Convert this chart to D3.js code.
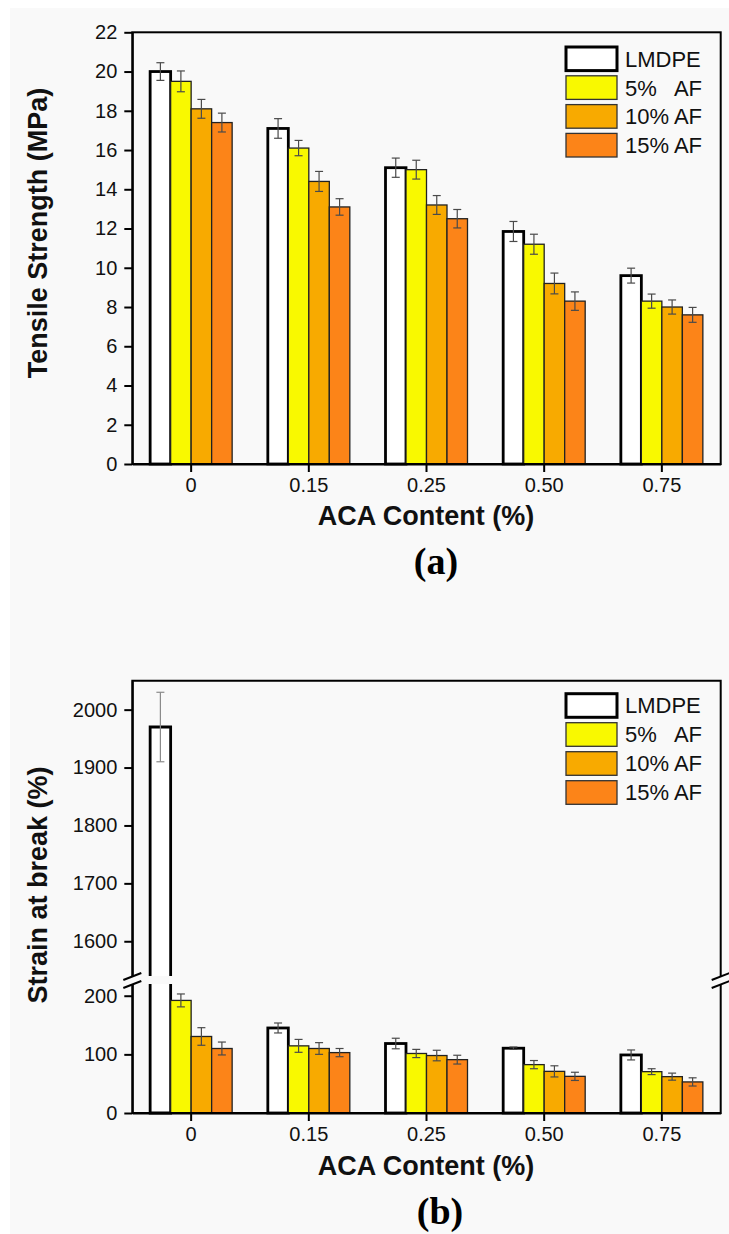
<!DOCTYPE html>
<html>
<head>
<meta charset="utf-8">
<script src="https://cdn.jsdelivr.net/npm/d3@7"></script>
<style>
  html, body { margin: 0; padding: 0; background: #ffffff; }
  svg { display: block; }
</style>
</head>
<body>
<svg id="fig" width="729" height="1234"></svg>
<script>
// ---- data ----
const categories = ["0", "0.15", "0.25", "0.50", "0.75"];
const seriesNames = ["LMDPE", "5%   AF", "10% AF", "15% AF"];

// Tensile strength (MPa)
const tensileLMDPE = [20.0, 17.1, 15.1, 11.85, 9.6];
const tensileAF5   = [19.5, 16.1, 15.0, 11.2, 8.3];
const tensileAF10  = [18.1, 14.4, 13.2, 9.2, 8.0];
const tensileAF15  = [17.4, 13.1, 12.5, 8.3, 7.6];
const tensileErrLMDPE = [0.45, 0.50, 0.49, 0.51, 0.38];
const tensileErrAF5   = [0.53, 0.39, 0.48, 0.51, 0.36];
const tensileErrAF10  = [0.48, 0.51, 0.48, 0.53, 0.36];
const tensileErrAF15  = [0.48, 0.42, 0.47, 0.47, 0.38];

// Strain at break (%)
const strainLMDPE = [1970, 145, 118.5, 110.5, 99];
const strainAF5   = [192, 114.5, 101.5, 82.5, 70.5];
const strainAF10  = [130.5, 110, 98, 71, 62];
const strainAF15  = [110, 103, 91, 62.5, 53];
const strainErrLMDPE = [60, 8.5, 9, 2, 8.5];
const strainErrAF5   = [11, 11, 7, 7, 5];
const strainErrAF10  = [15, 10, 9, 9.5, 6];
const strainErrAF15  = [11, 7, 7.5, 7, 7];

const tensileTicks = [0, 2, 4, 6, 8, 10, 12, 14, 16, 18, 20, 22];
const strainLowTicks = [0, 100, 200];
const strainHighTicks = [1600, 1700, 1800, 1900, 2000];

// ---- styling ----
const fills = ["#ffffff", "#f9f900", "#f8aa00", "#fc8418"];
const FONT = "'Liberation Sans', Arial, sans-serif";
const SERIF = "'Liberation Serif', 'Times New Roman', serif";
const intFmt = d3.format("d");

const svg = d3.select("#fig");
svg.append("rect").attr("x", 0).attr("y", 0).attr("width", 729).attr("height", 1234).attr("fill", "#ffffff");
svg.append("rect").attr("x", 10).attr("y", 8).attr("width", 719).attr("height", 1226).attr("fill", "#f9f9f9");

function buildRows(vals, errs) {
  return categories.map((c, i) => ({
    cat: c,
    items: vals.map((v, s) => ({ s, v: v[i], e: errs[s][i] }))
  }));
}

function styleAxis(g) {
  g.selectAll("path.domain").attr("stroke", "#000").attr("stroke-width", 2);
  g.selectAll(".tick line").attr("stroke", "#000").attr("stroke-width", 2);
  g.selectAll(".tick text").attr("font-family", FONT).attr("font-size", 20).attr("fill", "#111");
}

function legend(x, yc0, pitch) {
  const lg = svg.append("g");
  seriesNames.forEach((name, i) => {
    const yc = yc0 + i * pitch;
    lg.append("rect")
      .attr("x", x).attr("y", yc - 11.8).attr("width", 51).attr("height", 23.6)
      .attr("fill", fills[i])
      .attr("stroke", i === 0 ? "#000" : "#333")
      .attr("stroke-width", i === 0 ? 3 : 1.3);
    lg.append("text")
      .attr("x", x + 59).attr("y", yc).attr("dy", "0.36em")
      .attr("font-family", FONT).attr("font-size", 22).attr("fill", "#111")
      .style("white-space", "pre")
      .text(name);
  });
}

function drawErr(g, cx, yTop, yBot, color) {
  g.append("line").attr("x1", cx).attr("x2", cx).attr("y1", yTop).attr("y2", yBot)
    .attr("stroke", color).attr("stroke-width", 1.2);
  [yTop, yBot].forEach(yy => {
    g.append("line").attr("x1", cx - 4).attr("x2", cx + 4).attr("y1", yy).attr("y2", yy)
      .attr("stroke", color).attr("stroke-width", 1.2);
  });
}

// ================= (a) Tensile strength =================
{
  const L = 132.3, R = 720.7, T = 32.3, B = 464;
  const x0 = d3.scaleBand().domain(categories).range([L, R]).padding(0);
  const groupW = 82;
  const x1 = d3.scaleBand().domain(d3.range(4))
    .range([(x0.bandwidth() - groupW) / 2, (x0.bandwidth() + groupW) / 2]).padding(0);
  const y = d3.scaleLinear().domain([0, 22]).range([B, T]);

  const rows = buildRows([tensileLMDPE, tensileAF5, tensileAF10, tensileAF15],
                         [tensileErrLMDPE, tensileErrAF5, tensileErrAF10, tensileErrAF15]);

  const bars = svg.append("g");
  rows.forEach(r => {
    r.items.forEach(d => {
      const bx = x0(r.cat) + x1(d.s);
      bars.append("rect")
        .attr("x", bx).attr("y", y(d.v)).attr("width", x1.bandwidth()).attr("height", y(0) - y(d.v))
        .attr("fill", fills[d.s])
        .attr("stroke", d.s === 0 ? "#000" : "#222")
        .attr("stroke-width", d.s === 0 ? 2.8 : 1.3);
    });
    r.items.forEach(d => {
      const cx = x0(r.cat) + x1(d.s) + x1.bandwidth() / 2;
      drawErr(bars, cx, y(d.v + d.e), y(d.v - d.e), "#4a4a4a");
    });
  });

  // frame
  svg.append("rect").attr("x", L).attr("y", T).attr("width", R - L).attr("height", B - T)
    .attr("fill", "none").attr("stroke", "#000").attr("stroke-width", 2);

  const ya = svg.append("g").attr("transform", `translate(${L},0)`)
    .call(d3.axisLeft(y).tickValues(tensileTicks).tickFormat(intFmt)
      .tickSize(8).tickPadding(7).tickSizeOuter(0));
  styleAxis(ya);
  const xa = svg.append("g").attr("transform", `translate(0,${B})`)
    .call(d3.axisBottom(x0).tickSize(8).tickPadding(6).tickSizeOuter(0));
  styleAxis(xa);

  svg.append("text")
    .attr("transform", `translate(46.7,233) rotate(-90)`)
    .attr("text-anchor", "middle").attr("font-family", FONT).attr("font-weight", "bold")
    .attr("font-size", 27).attr("fill", "#111")
    .text("Tensile Strength (MPa)");
  svg.append("text")
    .attr("x", 426).attr("y", 525).attr("text-anchor", "middle")
    .attr("font-family", FONT).attr("font-weight", "bold").attr("font-size", 27).attr("fill", "#111")
    .text("ACA Content (%)");
  svg.append("text")
    .attr("x", 436).attr("y", 574).attr("text-anchor", "middle")
    .attr("font-family", SERIF).attr("font-weight", "bold").attr("font-size", 38).attr("fill", "#000")
    .text("(a)");

  legend(566, 58.8, 28.8);
}

// ================= (b) Strain at break (broken axis) =================
{
  const L = 132.3, R = 720.7, T = 680.7, B = 1113;
  const breakTop = 976, breakBot = 984;
  const x0 = d3.scaleBand().domain(categories).range([L, R]).padding(0);
  const groupW = 82;
  const x1 = d3.scaleBand().domain(d3.range(4))
    .range([(x0.bandwidth() - groupW) / 2, (x0.bandwidth() + groupW) / 2]).padding(0);
  const yLow = d3.scaleLinear().domain([0, 220]).range([B, breakBot]);
  const yHigh = d3.scaleLinear().domain([1540, 2050]).range([breakTop, T]);
  const yOf = v => (v <= 220 ? yLow(v) : yHigh(v));

  const rows = buildRows([strainLMDPE, strainAF5, strainAF10, strainAF15],
                         [strainErrLMDPE, strainErrAF5, strainErrAF10, strainErrAF15]);

  const bars = svg.append("g");
  rows.forEach(r => {
    r.items.forEach(d => {
      const bx = x0(r.cat) + x1(d.s);
      const w = x1.bandwidth();
      const sw = d.s === 0 ? 2.8 : 1.3;
      const sc = d.s === 0 ? "#000" : "#222";
      if (d.v <= 220) {
        bars.append("rect")
          .attr("x", bx).attr("y", yLow(d.v)).attr("width", w).attr("height", yLow(0) - yLow(d.v))
          .attr("fill", fills[d.s]).attr("stroke", sc).attr("stroke-width", sw);
      } else {
        // lower piece, open at the break
        bars.append("rect").attr("x", bx).attr("y", breakBot).attr("width", w).attr("height", B - breakBot)
          .attr("fill", fills[d.s]);
        bars.append("path")
          .attr("d", `M${bx},${breakBot}V${B}H${bx + w}V${breakBot}`)
          .attr("fill", "none").attr("stroke", sc).attr("stroke-width", sw);
        // upper piece, open at the break
        const yt = yHigh(d.v);
        bars.append("rect").attr("x", bx).attr("y", yt).attr("width", w).attr("height", breakTop - yt)
          .attr("fill", fills[d.s]);
        bars.append("path")
          .attr("d", `M${bx},${breakTop}V${yt}H${bx + w}V${breakTop}`)
          .attr("fill", "none").attr("stroke", sc).attr("stroke-width", sw);
      }
    });
    r.items.forEach(d => {
      const cx = x0(r.cat) + x1(d.s) + x1.bandwidth() / 2;
      const col = d.v > 220 ? "#8a8a8a" : "#4a4a4a";
      drawErr(bars, cx, yOf(d.v + d.e), yOf(d.v - d.e), col);
    });
  });

  // frame pieces
  const frame = svg.append("g").attr("fill", "none").attr("stroke", "#000").attr("stroke-width", 2);
  frame.append("path").attr("d", `M${L},${breakTop}V${T}H${R}V${breakTop}`);
  frame.append("path").attr("d", `M${L},${breakBot}V${B}H${R}V${breakBot}`);

  // break marks
  const marks = svg.append("g").attr("stroke", "#000").attr("stroke-width", 2);
  [L, R].forEach(xx => {
    marks.append("line").attr("x1", xx - 9).attr("y1", breakTop + 4).attr("x2", xx + 9).attr("y2", breakTop - 3);
    marks.append("line").attr("x1", xx - 9).attr("y1", breakBot + 4).attr("x2", xx + 9).attr("y2", breakBot - 3);
  });

  const yaLow = svg.append("g").attr("transform", `translate(${L},0)`)
    .call(d3.axisLeft(yLow).tickValues(strainLowTicks).tickFormat(intFmt)
      .tickSize(8).tickPadding(7).tickSizeOuter(0));
  styleAxis(yaLow);
  const yaHigh = svg.append("g").attr("transform", `translate(${L},0)`)
    .call(d3.axisLeft(yHigh).tickValues(strainHighTicks).tickFormat(intFmt)
      .tickSize(8).tickPadding(7).tickSizeOuter(0));
  styleAxis(yaHigh);
  const xa = svg.append("g").attr("transform", `translate(0,${B})`)
    .call(d3.axisBottom(x0).tickSize(8).tickPadding(6).tickSizeOuter(0));
  styleAxis(xa);

  svg.append("text")
    .attr("transform", `translate(47,885) rotate(-90)`)
    .attr("text-anchor", "middle").attr("font-family", FONT).attr("font-weight", "bold")
    .attr("font-size", 27).attr("fill", "#111")
    .text("Strain at break (%)");
  svg.append("text")
    .attr("x", 426).attr("y", 1175).attr("text-anchor", "middle")
    .attr("font-family", FONT).attr("font-weight", "bold").attr("font-size", 27).attr("fill", "#111")
    .text("ACA Content (%)");
  svg.append("text")
    .attr("x", 440).attr("y", 1224).attr("text-anchor", "middle")
    .attr("font-family", SERIF).attr("font-weight", "bold").attr("font-size", 38).attr("fill", "#000")
    .text("(b)");

  legend(566, 705.5, 29);
}
</script>
</body>
</html>
